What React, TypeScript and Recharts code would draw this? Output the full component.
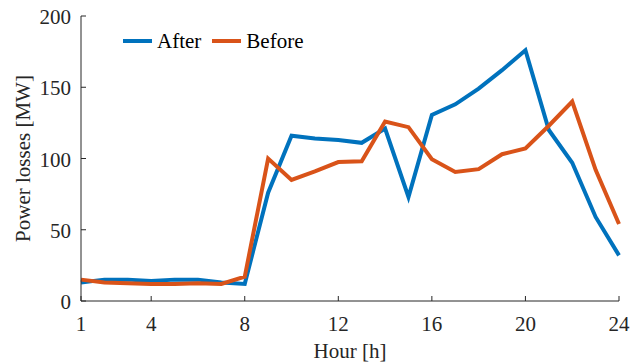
import { LineChart, Line, XAxis, YAxis, Legend } from 'recharts';

const hours = [1, 2, 3, 4, 5, 6, 7, 8, 9, 10, 11, 12, 13, 14, 15, 16, 17, 18, 19, 20, 21, 22, 23, 24];
const afterLosses = [13, 15, 15, 14, 15, 15, 13, 12, 76, 116, 114, 113, 111, 121, 73, 130.5, 138, 149, 162, 176, 120, 97, 59, 32];
const beforeLosses = [15, 13, 12.5, 12, 12, 12.5, 12, 17, 100, 85, 91, 97.5, 98, 126, 122, 99.5, 90.5, 92.5, 103, 107, 123, 140, 92, 54];
const xTicks = [1, 4, 8, 12, 16, 20, 24];
const yTicks = [0, 50, 100, 150, 200];

const BLUE = '#0072BD';
const ORANGE = '#D95319';
const AXIS = '#262626';
const FONT = '"Liberation Serif", "Times New Roman", serif';
const FS = 21;

const data = hours.map((h, i) => ({ hour: h, after: afterLosses[i], before: beforeLosses[i] }));

// ticks drawn inward, MATLAB style
function BottomTick(props: any) {
  const { x, y, payload } = props;
  return (
    <g>
      <line x1={x} y1={y} x2={x} y2={y - 5} stroke={AXIS} strokeWidth={1} />
      <text x={x} y={y + 30} textAnchor="middle" fill={AXIS} fontSize={FS} fontFamily={FONT}>
        {payload.value}
      </text>
    </g>
  );
}

function TopTick(props: any) {
  const { x, y } = props;
  return <line x1={x} y1={y} x2={x} y2={y + 5} stroke={AXIS} strokeWidth={1} />;
}

function LeftTick(props: any) {
  const { x, y, payload } = props;
  return (
    <g>
      <line x1={x} y1={y} x2={x + 5} y2={y} stroke={AXIS} strokeWidth={1} />
      <text x={x - 10} y={y + 8} textAnchor="end" fill={AXIS} fontSize={FS} fontFamily={FONT}>
        {payload.value}
      </text>
    </g>
  );
}

function RightTick(props: any) {
  const { x, y } = props;
  return <line x1={x} y1={y} x2={x - 5} y2={y} stroke={AXIS} strokeWidth={1} />;
}

function YTitle(props: any) {
  const { viewBox } = props;
  const cx = viewBox.x + 30;
  const cy = viewBox.y + viewBox.height / 2;
  return (
    <text x={cx} y={cy} transform={`rotate(-90, ${cx}, ${cy})`} textAnchor="middle" fill={AXIS} fontSize={FS} fontFamily={FONT}>
      Power losses [MW]
    </text>
  );
}

function XTitle(props: any) {
  const { viewBox } = props;
  return (
    <text x={viewBox.x + viewBox.width / 2} y={viewBox.y + 57} textAnchor="middle" fill={AXIS} fontSize={FS} fontFamily={FONT}>
      Hour [h]
    </text>
  );
}

function LegendContent() {
  const items = [
    { name: 'After', color: BLUE },
    { name: 'Before', color: ORANGE },
  ];
  return (
    <div style={{ display: 'flex', alignItems: 'center', fontFamily: FONT, fontSize: FS, color: '#000', lineHeight: '24px' }}>
      {items.map((it) => (
        <div key={it.name} style={{ display: 'flex', alignItems: 'center', marginRight: 11 }}>
          <svg width={29} height={6} style={{ marginRight: 5 }}>
            <line x1={0} y1={3} x2={29} y2={3} stroke={it.color} strokeWidth={4} />
          </svg>
          <span>{it.name}</span>
        </div>
      ))}
    </div>
  );
}

export default function App() {
  return (
    <div style={{ position: 'absolute', left: 0, top: 0, background: '#fff' }}>
      <LineChart width={630} height={364} data={data} margin={{ top: 16, right: 11, bottom: 0, left: 0 }}>
        <XAxis
          dataKey="hour"
          type="number"
          domain={[1, 24]}
          ticks={xTicks}
          height={63}
          tickSize={0}
          tickMargin={0}
          tickLine={false}
          axisLine={{ stroke: AXIS }}
          tick={<BottomTick />}
          interval={0}
          label={<XTitle />}
        />
        <XAxis
          xAxisId="top"
          dataKey="hour"
          type="number"
          orientation="top"
          domain={[1, 24]}
          ticks={xTicks}
          height={0}
          tickSize={0}
          tickMargin={0}
          tickLine={false}
          axisLine={{ stroke: AXIS }}
          tick={<TopTick />}
          interval={0}
        />
        <YAxis
          type="number"
          domain={[0, 200]}
          ticks={yTicks}
          width={81}
          tickSize={0}
          tickMargin={0}
          tickLine={false}
          axisLine={{ stroke: AXIS }}
          tick={<LeftTick />}
          interval={0}
          label={<YTitle />}
        />
        <YAxis
          yAxisId="right"
          type="number"
          orientation="right"
          domain={[0, 200]}
          ticks={yTicks}
          width={0}
          tickSize={0}
          tickMargin={0}
          tickLine={false}
          axisLine={{ stroke: AXIS }}
          tick={<RightTick />}
          interval={0}
        />
        <Legend
          layout="horizontal"
          verticalAlign="middle"
          align="center"
          content={<LegendContent />}
          wrapperStyle={{ top: 29, left: 123, width: 220 }}
        />
        <Line type="linear" dataKey="after" name="After" stroke={BLUE} strokeWidth={4} dot={false} isAnimationActive={false} />
        <Line type="linear" dataKey="before" name="Before" stroke={ORANGE} strokeWidth={4} dot={false} isAnimationActive={false} />
      </LineChart>
    </div>
  );
}
